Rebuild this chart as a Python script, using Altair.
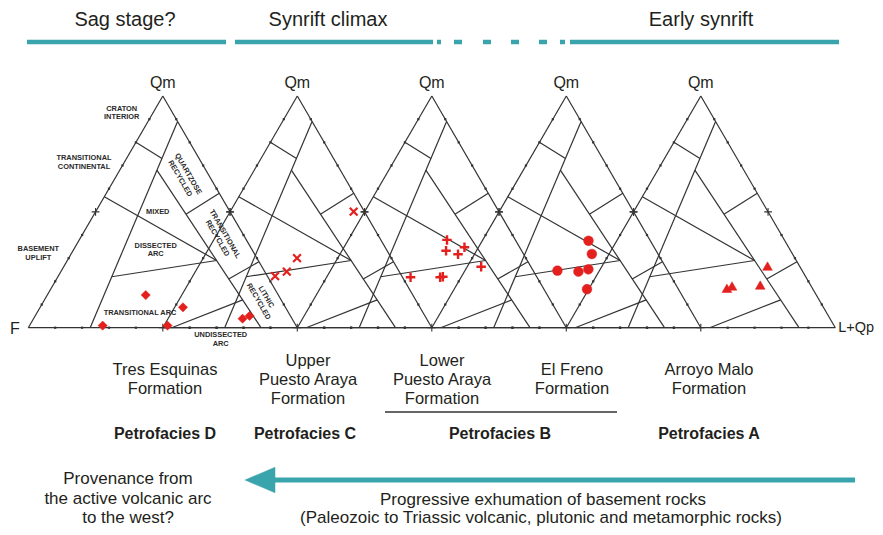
import pandas as pd
import altair as alt

# ---------------- data ----------------
stage_labels = ["Sag stage?", "Synrift climax", "Early synrift"]
stage_x = [125, 328, 701]

# Sample compositions (Qm, F, Lt in %), one triangle per unit (left to right)
tres_esquinas_qm = [14.1, 8.8, 0.9, 0.9, 3.9, 5.1]
tres_esquinas_f = [49.3, 38.1, 71.9, 47.8, 18.4, 15.2]
tres_esquinas_lt = [36.6, 53.1, 27.2, 51.3, 77.7, 79.7]

upper_pa_qm = [50.1, 30.0, 24.2, 22.3]
upper_pa_f = [4.0, 35.1, 41.8, 47.1]
upper_pa_lt = [45.9, 34.9, 34.0, 30.6]

lower_pa_qm = [37.9, 33.2, 34.7, 31.7, 26.3, 21.8, 21.8, 22.0]
lower_pa_f = [25.4, 28.1, 20.5, 24.4, 18.5, 47.0, 36.0, 34.9]
lower_pa_lt = [36.7, 38.7, 44.8, 43.9, 55.2, 31.2, 42.2, 43.1]

el_freno_qm = [37.5, 31.8, 24.6, 24.2, 25.2, 16.6]
el_freno_f = [23.0, 24.6, 41.0, 33.4, 29.2, 34.0]
el_freno_lt = [39.5, 43.6, 34.4, 42.4, 45.6, 49.4]

arroyo_malo_qm = [26.6, 18.4, 18.0, 17.0]
arroyo_malo_f = [11.9, 18.7, 29.4, 31.8]
arroyo_malo_lt = [61.5, 62.9, 52.6, 51.2]

# Dickinson QmFLt field boundaries: ((Qm, Lt) start, (Qm, Lt) end) in %
field_lines = [
    ((89.0, 11.0), (0.0, 23.0)),
    ((80.0, 0.0), (73.0, 13.2)),
    ((56.5, 0.0), (29.0, 55.5)),
    ((68.0, 13.8), (0.0, 86.5)),
    ((49.0, 34.1), (58.0, 42.0)),
    ((21.0, 64.0), (28.5, 71.5)),
    ((22.0, 20.0), (29.0, 55.5)),
    ((0.0, 53.3), (12.0, 73.7)),
]

field_labels = ["CRATON", "INTERIOR", "TRANSITIONAL", "CONTINENTAL", "BASEMENT", "UPLIFT",
                "MIXED", "DISSECTED", "ARC", "TRANSITIONAL ARC", "UNDISSECTED", "ARC"]
field_label_x = [121.7, 121.7, 84, 84, 38.3, 38.3, 157.7, 155.7, 155.7, 140, 220.7, 220.7]
field_label_y = [108.7, 117.3, 158.3, 167.3, 249.3, 258.3, 211.7, 246, 254.3, 313.3, 335.3, 344.3]

rot_labels = ["QUARTZOSE", "RECYCLED", "TRANSITIONAL", "RECYCLED", "LITHIC", "RECYCLED"]
rot_label_x = [188, 180, 224.7, 217.3, 266, 258.5]
rot_label_y = [174, 178.5, 234, 238.3, 297, 301.5]

formation_text = ["Tres Esquinas", "Formation", "Upper", "Puesto Araya", "Formation",
                  "Lower", "Puesto Araya", "Formation", "El Freno", "Formation",
                  "Arroyo Malo", "Formation"]
formation_x = [165, 165, 308, 308, 308, 442, 442, 442, 572, 572, 709, 709]
formation_y = [370, 389, 361, 380, 399, 361, 380, 399, 370, 389, 370, 389]

petrofacies = ["Petrofacies D", "Petrofacies C", "Petrofacies B", "Petrofacies A"]
petrofacies_x = [165, 305, 500, 709]

left_note = ["Provenance from", "the active volcanic arc", "to the west?"]
right_note = ["Progressive exhumation of basement rocks",
              "(Paleozoic to Triassic volcanic, plutonic and metamorphic rocks)"]

# ---------------- layout ----------------
X0, DX, W, H, YB = 28.3, 134.5, 269.0, 231.7, 327.7
TEAL = "#3aa4ac"
RED = "#e3201e"
INK = "#333333"
FONT = "Liberation Sans"


def proj(k, qm, lt):
    return X0 + k * DX + W * (lt + qm / 2.0) / 100.0, YB - H * qm / 100.0


segs = []
for k in range(5):
    corners = [(0, 0), (0, 100), (100, 0), (0, 0)]
    for a, b in zip(corners[:-1], corners[1:]):
        (x1, y1), (x2, y2) = proj(k, *a), proj(k, *b)
        segs.append(dict(x=x1, y=y1, x2=x2, y2=y2))
    for a, b in field_lines:
        (x1, y1), (x2, y2) = proj(k, *a), proj(k, *b)
        segs.append(dict(x=x1, y=y1, x2=x2, y2=y2))
seg_df = pd.DataFrame(segs)

ticks, mids = [], []
for k in range(5):
    for f in range(10, 100, 10):
        for qm, lt in [(0, f), (f, 100 - f), (f, 0)]:
            x, y = proj(k, qm, lt)
            (mids if f == 50 else ticks).append(dict(x=x, y=y))
tick_df = pd.DataFrame(ticks)
mid_df = pd.DataFrame(mids)

groups = [
    (0, "diamond", tres_esquinas_qm, tres_esquinas_lt),
    (1, "x", upper_pa_qm, upper_pa_lt),
    (2, "plus", lower_pa_qm, lower_pa_lt),
    (3, "circle", el_freno_qm, el_freno_lt),
    (4, "triangle", arroyo_malo_qm, arroyo_malo_lt),
]
pts = []
for k, g, qms, lts in groups:
    for qm, lt in zip(qms, lts):
        x, y = proj(k, qm, lt)
        pts.append(dict(x=x, y=y, g=g))
pts_df = pd.DataFrame(pts)

xs = alt.Scale(domain=[8, 875], nice=False, zero=False)
ys = alt.Scale(domain=[8, 527], nice=False, zero=False, reverse=True)


def X(f="x"):
    return alt.X(f"{f}:Q", scale=xs, axis=None)


def Y(f="y"):
    return alt.Y(f"{f}:Q", scale=ys, axis=None)


lines = alt.Chart(seg_df).mark_rule(color=INK, strokeWidth=1.2).encode(
    x=X(), y=Y(), x2="x2:Q", y2="y2:Q")

tick_layer = alt.Chart(tick_df).mark_point(
    shape="square", filled=True, color=INK, size=5, opacity=1).encode(x=X(), y=Y())
mid_layer = alt.Chart(mid_df).mark_point(
    shape="M-1,0L1,0M0,-1L0,1", color=INK, size=60, strokeWidth=1.1, opacity=1).encode(x=X(), y=Y())


def marker(g, shape, size, filled, sw=0):
    d = pts_df[pts_df.g == g]
    kw = dict(shape=shape, size=size, opacity=1)
    if filled:
        kw.update(filled=True, fill=RED, stroke=RED, strokeWidth=0.5)
    else:
        kw.update(filled=False, stroke=RED, strokeWidth=sw)
    return alt.Chart(d).mark_point(**kw).encode(x=X(), y=Y())


markers = [
    marker("diamond", "diamond", 85, True),
    marker("x", "M-1,-1L1,1M1,-1L-1,1", 60, False, 2.2),
    marker("plus", "M-1,0L1,0M0,-1L0,1", 90, False, 2.4),
    marker("circle", "circle", 95, True),
    marker("triangle", "triangle-up", 95, True),
]


def text_layer(texts, xv, yv, size, weight="normal", angle=0, color="#231f20", align="center"):
    d = pd.DataFrame(dict(t=texts, x=xv, y=yv))
    return alt.Chart(d).mark_text(
        font=FONT, fontSize=size, fontWeight=weight, angle=angle, color=color,
        align=align, baseline="middle").encode(x=X(), y=Y(), text="t:N")


apex_x = [proj(k, 100, 0)[0] for k in range(5)]
texts = [
    text_layer(stage_labels, stage_x, [20] * 3, 20),
    text_layer(["Qm"] * 5, apex_x, [83] * 5, 16),
    text_layer(["F"], [15], [329], 16),
    text_layer(["L+Qp"], [874], [328], 14.5, align="right"),
    text_layer(field_labels, field_label_x, field_label_y, 7.4, "bold", 0, "#2a2a2a"),
    text_layer(rot_labels, rot_label_x, rot_label_y, 7.4, "bold", 60, "#2a2a2a"),
    text_layer(formation_text, formation_x, formation_y, 16.5),
    text_layer(petrofacies, petrofacies_x, [434] * 4, 16, "bold"),
    text_layer(left_note, [128] * 3, [479, 499, 518], 17),
    text_layer(right_note, [543, 541], [500, 518], 17),
]

# top stage bars
bar_x1 = [27, 235, 437, 454, 483, 511, 539, 560, 570]
bar_x2 = [226, 433, 441, 462, 491, 519, 547, 565, 839]
bar_df = pd.DataFrame(dict(x=bar_x1, x2=bar_x2, y=[42] * len(bar_x1)))
bars = alt.Chart(bar_df).mark_rule(color=TEAL, strokeWidth=4.5).encode(
    x=X(), x2="x2:Q", y=Y())

underline = alt.Chart(pd.DataFrame(dict(x=[385], x2=[617], y=[412]))).mark_rule(
    color=INK, strokeWidth=1.5).encode(x=X(), x2="x2:Q", y=Y())

shaft = alt.Chart(pd.DataFrame(dict(x=[268], x2=[855], y=[480]))).mark_rule(
    color=TEAL, strokeWidth=5).encode(x=X(), x2="x2:Q", y=Y())
head = alt.Chart(pd.DataFrame(dict(x=[260], y=[480]))).mark_point(
    shape="M-1,0L1,-0.85L1,0.85Z", size=900, filled=True, fill=TEAL, stroke=TEAL,
    strokeWidth=0.5, opacity=1).encode(x=X(), y=Y())

chart = alt.layer(
    lines, tick_layer, mid_layer, *markers, *texts, bars, underline, shaft, head
).properties(width=867, height=519, padding=0, autosize="none").configure_view(stroke=None)

chart.save("out.html", embed_options={"renderer": "svg", "actions": False})
